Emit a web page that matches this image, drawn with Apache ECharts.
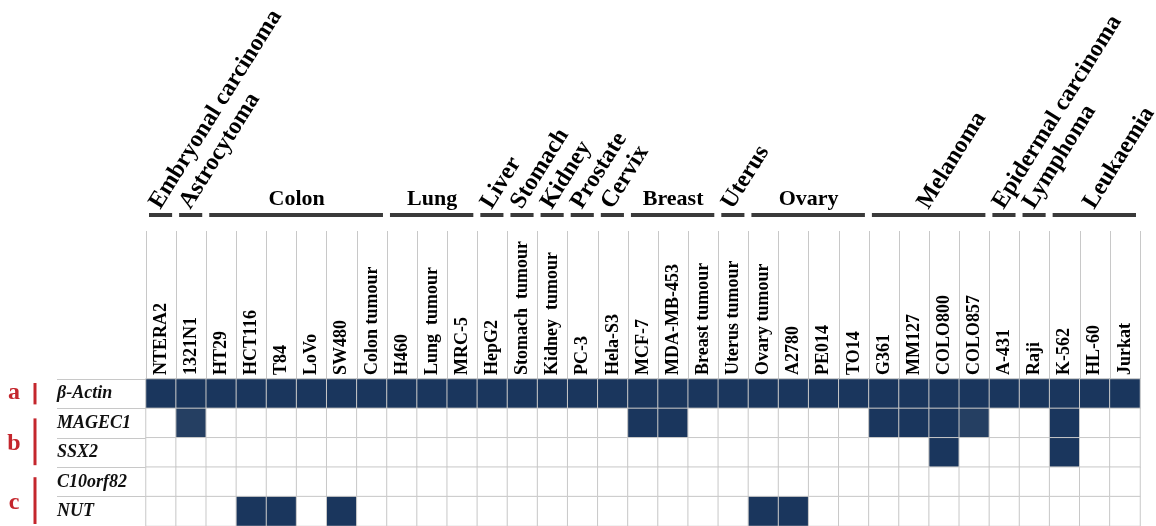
<!DOCTYPE html>
<html>
<head>
<meta charset="utf-8">
<script src="https://cdn.jsdelivr.net/npm/echarts@6/dist/echarts.min.js"></script>
<style>
  html, body { margin: 0; padding: 0; background: #ffffff; }
  #chart { width: 1156px; height: 526px; }
</style>
</head>
<body>
<div id="chart"></div>
<script>
// Cell lines / tissue samples (columns)
const cellLines = ['NTERA2', '1321N1', 'HT29', 'HCT116', 'T84', 'LoVo', 'SW480', 'Colon tumour',
  'H460', 'Lung  tumour', 'MRC-5', 'HepG2', 'Stomach  tumour', 'Kidney  tumour', 'PC-3', 'Hela-S3',
  'MCF-7', 'MDA-MB-453', 'Breast tumour', 'Uterus tumour', 'Ovary tumour', 'A2780', 'PE014', 'TO14',
  'G361', 'MM127', 'COLO800', 'COLO857', 'A-431', 'Raji', 'K-562', 'HL-60', 'Jurkat'];

// Genes (rows)
const genes = ['β-Actin', 'MAGEC1', 'SSX2', 'C10orf82', 'NUT'];

// Expression per cell line: 0 = not detected, 1 = weak band, 2 = strong band
const betaActin = [2, 2, 2, 2, 2, 2, 2, 2, 2, 2, 2, 2, 2, 2, 2, 2, 2, 2, 2, 2, 2, 2, 2, 2, 2, 2, 2, 2, 2, 2, 2, 2, 2];
const magec1    = [0, 1, 0, 0, 0, 0, 0, 0, 0, 0, 0, 0, 0, 0, 0, 0, 2, 2, 0, 0, 0, 0, 0, 0, 2, 2, 2, 1, 0, 0, 2, 0, 0];
const ssx2      = [0, 0, 0, 0, 0, 0, 0, 0, 0, 0, 0, 0, 0, 0, 0, 0, 0, 0, 0, 0, 0, 0, 0, 0, 0, 0, 2, 0, 0, 0, 2, 0, 0];
const c10orf82  = [0, 0, 0, 0, 0, 0, 0, 0, 0, 0, 0, 0, 0, 0, 0, 0, 0, 0, 0, 0, 0, 0, 0, 0, 0, 0, 0, 0, 0, 0, 0, 0, 0];
const nut       = [0, 0, 0, 2, 2, 0, 2, 0, 0, 0, 0, 0, 0, 0, 0, 0, 0, 0, 0, 0, 2, 2, 0, 0, 0, 0, 0, 0, 0, 0, 0, 0, 0];

// Tissue of origin groups spanning consecutive columns
const groupNames  = ['Embryonal carcinoma', 'Astrocytoma', 'Colon', 'Lung', 'Liver', 'Stomach', 'Kidney',
  'Prostate', 'Cervix', 'Breast', 'Uterus', 'Ovary', 'Melanoma', 'Epidermal carcinoma', 'Lymphoma', 'Leukaemia'];
const groupSizes  = [1, 1, 6, 3, 1, 1, 1, 1, 1, 3, 1, 4, 4, 1, 1, 3];
const groupTilted = [true, true, false, false, true, true, true, true, true, false, true, false, true, true, true, true];

// Gene classes marked at the left: letter and the rows it covers
const classLetters = ['a', 'b', 'c'];
const classRows    = [[0, 0], [1, 2], [3, 4]];

const SERIF = '"Liberation Serif", "Times New Roman", Times, serif';
const GRID_LINE = '#c8c8c8';
const RED = '#c4262d';

const rows = [betaActin, magec1, ssx2, c10orf82, nut];
const cells = [];
rows.forEach((vals, gi) => vals.forEach((v, ci) => cells.push([ci, gi, v])));

const chart = echarts.init(document.getElementById('chart'), null, { renderer: 'canvas' });

chart.setOption({
  animation: false,
  backgroundColor: '#ffffff',
  grid: [
    { left: 146, top: 379, width: 994, height: 150 },   // expression matrix
    { left: 146, top: 231, width: 994, height: 148 },   // column header cells
    { left: 57, top: 379, width: 89, height: 150 }      // gene label cells
  ],
  xAxis: [
    { type: 'category', gridIndex: 0, data: cellLines, axisLine: { show: false }, axisTick: { show: false },
      axisLabel: { show: false }, splitLine: { show: false } },
    { type: 'category', gridIndex: 1, data: cellLines, position: 'bottom',
      axisLine: { show: false }, axisTick: { show: false },
      axisLabel: { inside: true, rotate: 90, interval: 0, margin: 4, color: '#000',
        fontFamily: SERIF, fontWeight: 'bold', fontSize: 18 },
      splitLine: { show: true, interval: 0, lineStyle: { color: GRID_LINE, width: 1 } } },
    { type: 'value', gridIndex: 2, show: false }
  ],
  yAxis: [
    { type: 'category', gridIndex: 0, data: genes, inverse: true,
      axisLine: { show: false }, axisTick: { show: false }, splitLine: { show: false },
      axisLabel: { align: 'left', margin: 89, color: '#111', fontFamily: SERIF,
        fontStyle: 'italic', fontWeight: 'bold', fontSize: 18 } },
    { type: 'value', gridIndex: 1, show: false },
    { type: 'category', gridIndex: 2, data: genes, inverse: true,
      axisLine: { show: false }, axisTick: { show: false }, axisLabel: { show: false },
      splitLine: { show: true, interval: 0, lineStyle: { color: GRID_LINE, width: 1 } } }
  ],
  visualMap: {
    type: 'piecewise', show: false, dimension: 2, seriesIndex: 0,
    pieces: [
      { value: 0, color: '#ffffff' },
      { value: 1, color: '#253f62' },
      { value: 2, color: '#1a365d' }
    ]
  },
  series: [{
    type: 'heatmap', xAxisIndex: 0, yAxisIndex: 0, data: cells,
    itemStyle: { borderColor: GRID_LINE, borderWidth: 1 },
    emphasis: { disabled: true }, silent: true
  }]
});

// Group brackets and tissue names above the columns, placed on the category scale
const colX = i => chart.convertToPixel({ xAxisIndex: 0 }, i);
const rowY = i => chart.convertToPixel({ yAxisIndex: 0 }, i);
const band = colX(1) - colX(0);
const rowH = rowY(1) - rowY(0);
const graphics = [];
let start = 0;
groupNames.forEach((name, g) => {
  const end = start + groupSizes[g] - 1;
  const left = colX(start) - band / 2;
  const right = colX(end) + band / 2;
  const center = (left + right) / 2;
  graphics.push({
    type: 'line', silent: true,
    shape: { x1: left + 3, y1: 215, x2: right - 4, y2: 215 },
    style: { stroke: '#3a3a3a', lineWidth: 4 }
  });
  if (groupTilted[g]) {
    graphics.push({
      type: 'text', silent: true, x: center + 4, y: 213, rotation: 58 * Math.PI / 180,
      style: { text: name, fill: '#000', font: 'bold 24px ' + SERIF, align: 'left', verticalAlign: 'bottom' }
    });
  } else {
    graphics.push({
      type: 'text', silent: true, x: center, y: 210,
      style: { text: name, fill: '#000', font: 'bold 22px ' + SERIF, align: 'center', verticalAlign: 'bottom' }
    });
  }
  start = end + 1;
});

// Class markers (a, b, c) with red bars beside the gene names
classLetters.forEach((letter, k) => {
  const top = rowY(classRows[k][0]) - rowH / 2;
  const bottom = rowY(classRows[k][1]) + rowH / 2;
  const single = classRows[k][0] === classRows[k][1];
  const y1 = top + (single ? 4 : 10);
  const y2 = bottom - (single ? 4 : 2);
  graphics.push({
    type: 'rect', silent: true,
    shape: { x: 33.5, y: y1, width: 3, height: y2 - y1 },
    style: { fill: RED }
  });
  graphics.push({
    type: 'text', silent: true, x: 14, y: (y1 + y2) / 2 + (single ? -1 : 2),
    style: { text: letter, fill: RED, font: 'bold 24px ' + SERIF, align: 'center', verticalAlign: 'middle' }
  });
});

chart.setOption({ graphic: graphics });
</script>
</body>
</html>
